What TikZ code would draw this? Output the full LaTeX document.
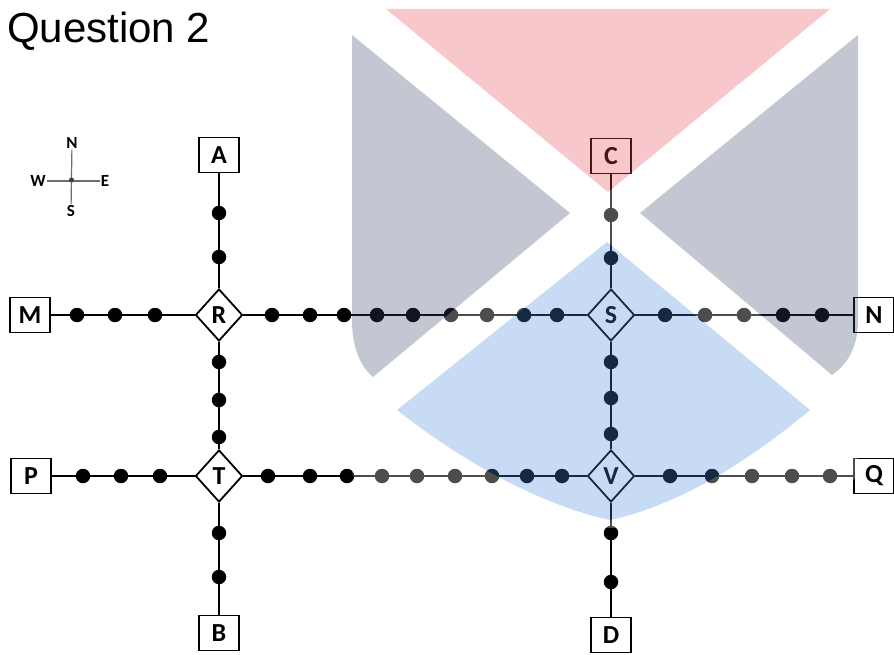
\documentclass[tikz,border=0pt]{standalone}
\usepackage{fontspec}
\setmainfont{Liberation Sans}
\newfontfamily\lblfont{Carlito}
\usetikzlibrary{shapes.geometric}
\definecolor{wmblue}{RGB}{72,138,222}
\definecolor{wmgrey}{RGB}{55,72,105}
\definecolor{wmpink}{RGB}{232,72,88}
\definecolor{compassgrey}{RGB}{110,110,110}
\tikzset{
  endbox/.style={draw=black, line width=1.8pt, fill=white, minimum width=40pt, minimum height=35pt, inner sep=0pt, font=\lblfont\bfseries\fontsize{26}{26}\selectfont},
  junction/.style={diamond, draw=black, line width=1.8pt, fill=white, minimum width=47pt, minimum height=52pt, inner sep=0pt, font=\lblfont\bfseries\fontsize{26}{26}\selectfont},
  halt/.style={circle, fill=black, minimum size=14.5pt, inner sep=0pt},
  track/.style={line width=2pt, black},
  compasslbl/.style={inner sep=1pt, font=\lblfont\bfseries\fontsize{17}{17}\selectfont},
  compassline/.style={line width=1.2pt, compassgrey},
}
\begin{document}
\begin{tikzpicture}[x=1pt,y=-1pt]
\useasboundingbox (0,0) rectangle (894,655);
\fill[white] (0,0) rectangle (894,655);

% title
\node[anchor=base west, inner sep=0pt, font=\fontsize{42}{42}\selectfont] (title) at (7,43) {Question 2};

% compass
\node[compasslbl] (cN) at (72,143) {N};
\node[compasslbl] (cS) at (71,211) {S};
\node[compasslbl] (cW) at (38,181) {W};
\node[compasslbl] (cE) at (105,181) {E};
\draw[compassline] (cN) -- (cS);
\draw[compassline] (cW) -- (cE);
\coordinate (cC) at (71.5,180);
\fill[black!75] (cC) circle (2.5pt);

% end boxes
\node[endbox] (A) at (219,155) {A};
\node[endbox] (B) at (219,633) {B};
\node[endbox] (C) at (611,156) {C};
\node[endbox] (D) at (611,635) {D};
\node[endbox] (M) at (30,315) {M};
\node[endbox] (N) at (874,315) {N};
\node[endbox] (P) at (31,476) {P};
\node[endbox] (Q) at (874,476) {Q};

% junctions
\node[junction] (R) at (219,315) {R};
\node[junction] (S) at (611,315) {S};
\node[junction] (T) at (219,476) {T};
\node[junction] (V) at (611,476) {V};

% stops
\foreach \x [count=\i] in {77,115,155} \node[halt] (m\i) at (\x,315) {};
\foreach \x [count=\i] in {272,310,344,377,413,451,487,524,557} \node[halt] (rs\i) at (\x,315) {};
\foreach \x [count=\i] in {665,705,744,783,822} \node[halt] (sn\i) at (\x,315) {};
\foreach \x [count=\i] in {83,121,160} \node[halt] (p\i) at (\x,476) {};
\foreach \x [count=\i] in {268,310,347,382,417,455,492,527,562} \node[halt] (tv\i) at (\x,476) {};
\foreach \x [count=\i] in {670,712,752,792,830} \node[halt] (vq\i) at (\x,476) {};
\foreach \y [count=\i] in {213,257} \node[halt] (a\i) at (219,\y) {};
\foreach \y [count=\i] in {362,400,437} \node[halt] (rt\i) at (219,\y) {};
\foreach \y [count=\i] in {533,577} \node[halt] (tb\i) at (219,\y) {};
\foreach \y [count=\i] in {215,258} \node[halt] (c\i) at (611,\y) {};
\foreach \y [count=\i] in {362,398,434} \node[halt] (sv\i) at (611,\y) {};
\foreach \y [count=\i] in {533,582} \node[halt] (vd\i) at (611,\y) {};

% tracks
\draw[track] (M) -- (m1) -- (m2) -- (m3) -- (R);
\draw[track] (R) -- (rs1) -- (rs2) -- (rs3) -- (rs4) -- (rs5) -- (rs6) -- (rs7) -- (rs8) -- (rs9) -- (S);
\draw[track] (S) -- (sn1) -- (sn2) -- (sn3) -- (sn4) -- (sn5) -- (N);
\draw[track] (P) -- (p1) -- (p2) -- (p3) -- (T);
\draw[track] (T) -- (tv1) -- (tv2) -- (tv3) -- (tv4) -- (tv5) -- (tv6) -- (tv7) -- (tv8) -- (tv9) -- (V);
\draw[track] (V) -- (vq1) -- (vq2) -- (vq3) -- (vq4) -- (vq5) -- (Q);
\draw[track] (A) -- (a1) -- (a2) -- (R);
\draw[track] (R) -- (rt1) -- (rt2) -- (rt3) -- (T);
\draw[track] (T) -- (tb1) -- (tb2) -- (B);
\draw[track] (C) -- (c1) -- (c2) -- (S);
\draw[track] (S) -- (sv1) -- (sv2) -- (sv3) -- (V);
\draw[track] (V) -- (vd1) -- (vd2) -- (D);

% watermark overlay
\begin{scope}[transparency group, opacity=0.3]
  \fill[white] (352,9) -- (858,9) -- (858,470) .. controls (858,505) and (700,528) .. (610,528) .. controls (520,528) and (352,505) .. (352,470) -- cycle;
  \fill[wmpink] (386,9) -- (830,9) -- (608,192) -- cycle;
  \fill[wmgrey] (352,35) -- (570,213) -- (373,377) .. controls (362,368) and (352,350) .. (352,320) -- cycle;
  \fill[wmgrey] (858,35) -- (640,213) -- (832,375) .. controls (845,366) and (858,350) .. (858,320) -- cycle;
  \fill[wmblue] (607,242) -- (810,410) .. controls (750,460) and (680,505) .. (610,520) .. controls (540,505) and (460,460) .. (397,410) -- cycle;
\end{scope}
\end{tikzpicture}
\end{document}
